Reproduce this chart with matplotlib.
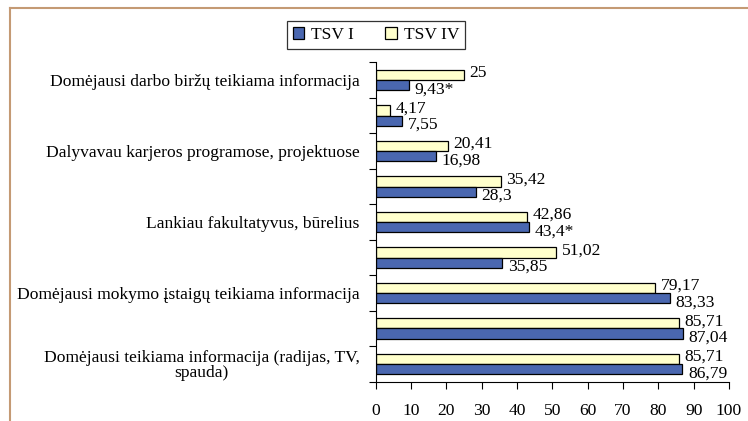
import matplotlib
matplotlib.use("Agg")
import matplotlib.pyplot as plt
from matplotlib.lines import Line2D
from matplotlib.patches import Patch

plt.rcParams['font.family'] = ['Liberation Serif', 'DejaVu Serif']

categories = [
    "Domėjausi darbo biržų teikiama informacija",
    "",
    "Dalyvavau karjeros programose, projektuose",
    "",
    "Lankiau fakultatyvus, būrelius",
    "",
    "Domėjausi mokymo įstaigų teikiama informacija",
    "",
    "Domėjausi teikiama informacija (radijas, TV,\nspauda)",
]
tsv1 = [9.43, 7.55, 16.98, 28.3, 43.4, 35.85, 83.33, 87.04, 86.79]
tsv1_marks = ["*", "", "", "", "*", "", "", "", ""]
tsv4 = [25, 4.17, 20.41, 35.42, 42.86, 51.02, 79.17, 85.71, 85.71]
tsv4_marks = ["", "", "", "", "", "", "", "", ""]
series_names = ["TSV I", "TSV IV"]
xticks = [0, 10, 20, 30, 40, 50, 60, 70, 80, 90, 100]

BLUE = "#4A67B0"
YELLOW = "#FFFFCC"
BORDER = "#C49A74"
FS = 12.6

W, H = 748, 421
fig = plt.figure(figsize=(W / 100, H / 100), dpi=100)
ax = fig.add_axes([375.7 / W, 1 - 381.7 / H, (729 - 375.7) / W, (381.7 - 62.4) / H])

n = len(categories)
pos = list(range(n))
h = 0.29
y4 = [p - h / 2 for p in pos]
y1 = [p + h / 2 for p in pos]
ax.barh(y4, tsv4, height=h, color=YELLOW, edgecolor="black", linewidth=0.9, label=series_names[1])
ax.barh(y1, tsv1, height=h, color=BLUE, edgecolor="black", linewidth=0.9, label=series_names[0])

def fmt(v, m):
    return f"{v:g}".replace(".", ",") + m

for yy, v, m in zip(y4, tsv4, tsv4_marks):
    ax.annotate(fmt(v, m), (v, yy), xytext=(4, 1.5), textcoords="offset points",
                ha="left", va="center", fontsize=FS)
for yy, v, m in zip(y1, tsv1, tsv1_marks):
    ax.annotate(fmt(v, m), (v, yy), xytext=(4, -3), textcoords="offset points",
                ha="left", va="center", fontsize=FS)

ax.set_xlim(0, 100)
ax.set_ylim(n - 0.5, -0.5)
ax.set_xticks(xticks)
ax.set_xticklabels([str(t) for t in xticks], fontsize=FS)
ax.tick_params(axis="x", direction="out", length=5, width=0.8, pad=10)

ax.set_yticks([p - 0.5 for p in range(n + 1)])
ax.set_yticklabels([])
ax.tick_params(axis="y", which="major", direction="out", length=5, width=0.8)
ax.set_yticks(pos, minor=True)
ax.set_yticklabels(categories, minor=True, fontsize=FS, multialignment="center",
                   linespacing=0.95)
ax.tick_params(axis="y", which="minor", length=0, pad=11.5)

for s in ["top", "right"]:
    ax.spines[s].set_visible(False)
for s in ["left", "bottom"]:
    ax.spines[s].set_linewidth(0.8)

handles = [Patch(facecolor=BLUE, edgecolor="black", linewidth=0.9),
           Patch(facecolor=YELLOW, edgecolor="black", linewidth=0.9)]
leg = fig.legend(handles, series_names, loc="center", bbox_to_anchor=(376 / W, 1 - 35 / H),
                 ncol=2, fontsize=FS, frameon=True, fancybox=False, edgecolor="black",
                 handlelength=0.65, handleheight=0.65, handletextpad=0.4, columnspacing=1.8,
                 borderpad=0.35, borderaxespad=0)
leg.get_frame().set_linewidth(0.9)

fig.add_artist(Line2D([10 / W, 10 / W], [0, 1 - 8 / H], color=BORDER, linewidth=1.5))
fig.add_artist(Line2D([10 / W, 1], [1 - 8 / H, 1 - 8 / H], color=BORDER, linewidth=1.5))

fig.savefig("out.png", dpi=100)
